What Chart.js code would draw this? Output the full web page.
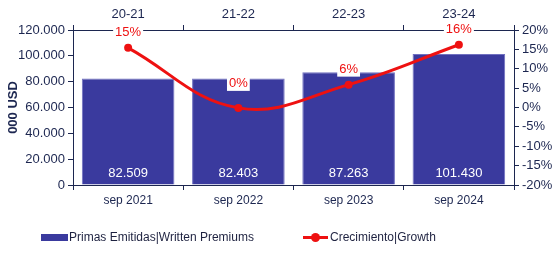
<!DOCTYPE html>
<html>
<head>
<meta charset="utf-8">
<script src="https://cdn.jsdelivr.net/npm/chart.js@4"></script>
<style>
  html, body { margin: 0; padding: 0; background: #fff; }
  .wrap { position: relative; width: 555px; height: 253px; font-family: Arial, "Liberation Sans", sans-serif; }
  canvas { position: absolute; left: 0; top: 0; }
  .legend { position: absolute; top: 229px; left: 0; width: 555px; height: 16px; font-size: 12px; color: #1e2240; }
  .item { position: absolute; top: 0; display: flex; align-items: center; height: 16px; white-space: nowrap; }
  .box { width: 27px; height: 7px; background: #3a3a9e; margin-right: 1px; }
  .line { position: relative; width: 25px; height: 3px; background: #ee1111; margin-right: 2px; }
  .line::after { content: ""; position: absolute; left: 8px; top: -3px; width: 9px; height: 9px; border-radius: 50%; background: #ee1111; }
</style>
</head>
<body>
<div class="wrap">
  <canvas id="chart" width="555" height="253"></canvas>
  <div class="legend">
    <div class="item" style="left:41px"><span class="box"></span>Primas Emitidas|Written Premiums</div>
    <div class="item" style="left:303px"><span class="line"></span>Crecimiento|Growth</div>
  </div>
</div>
<script>
const months = ["sep 2021", "sep 2022", "sep 2023", "sep 2024"];
const periods = ["20-21", "21-22", "22-23", "23-24"];
const premiums = [82509, 82403, 87263, 101430];
const growth = [15.4, -0.1, 5.9, 16.2];

const navy = "#1c2650";
const barColor = "#3a3a9e";
const red = "#ee1111";
const fontFam = "Arial, 'Liberation Sans', sans-serif";

const fmtThousands = v => String(v).replace(/\B(?=(\d{3})+(?!\d))/g, ".");

// value labels: white inside bars, red above the line points
const labelsPlugin = {
  id: "valueLabels",
  afterDatasetsDraw(chart) {
    const ctx = chart.ctx;
    ctx.save();
    ctx.textAlign = "center";
    ctx.textBaseline = "middle";
    ctx.font = "13px " + fontFam;

    const bars = chart.getDatasetMeta(0).data;
    const yBottom = chart.scales.y.bottom;
    bars.forEach((bar, i) => {
      ctx.fillStyle = "#ffffff";
      ctx.fillText(fmtThousands(premiums[i]), bar.x, yBottom - 12);
    });

    const pts = chart.getDatasetMeta(1).data;
    pts.forEach((p, i) => {
      const txt = Math.round(growth[i]) + "%";
      const w = ctx.measureText(txt).width;
      const ly = p.y - (i === 1 ? 24 : 15);
      ctx.fillStyle = "#ffffff";
      ctx.fillRect(p.x - w / 2 - 2, ly - 7, w + 4, 14);
      ctx.fillStyle = red;
      ctx.fillText(txt, p.x, ly);
    });
    ctx.restore();
  }
};

const axisGrid = { display: true, drawOnChartArea: false, offset: true, tickLength: 5, color: navy, lineWidth: 1 };

new Chart(document.getElementById("chart").getContext("2d"), {
  data: {
    labels: months,
    datasets: [
      {
        type: "bar", label: "Primas Emitidas|Written Premiums", data: premiums,
        backgroundColor: barColor, borderColor: "#7070c0", borderWidth: 1,
        barPercentage: 1, categoryPercentage: 0.84, yAxisID: "y", order: 2
      },
      {
        type: "line", label: "Crecimiento|Growth", data: growth,
        borderColor: red, backgroundColor: red, borderWidth: 3,
        pointRadius: 4, pointBackgroundColor: red, pointBorderWidth: 0,
        tension: 0.4, yAxisID: "y1", order: 1
      }
    ]
  },
  options: {
    responsive: false, animation: false,
    layout: { padding: { top: 0, bottom: 43, left: 4, right: 0 } },
    plugins: { legend: { display: false }, tooltip: { enabled: false } },
    scales: {
      x: {
        position: "bottom", offset: true, grid: axisGrid, border: { color: navy },
        ticks: { color: navy, font: { size: 12, family: fontFam }, padding: 3 },
        afterFit: s => { s.height = 25; }
      },
      x2: {
        type: "category", position: "top", offset: true, labels: periods, grid: axisGrid, border: { color: navy },
        ticks: { color: navy, font: { size: 13, family: fontFam }, padding: 3 },
        afterFit: s => { s.height = 30; }
      },
      y: {
        position: "left", min: 0, max: 120000,
        grid: { display: true, drawOnChartArea: false, tickLength: 5, color: navy },
        border: { color: navy },
        ticks: { stepSize: 20000, color: navy, font: { size: 13, family: fontFam }, padding: 3, callback: v => fmtThousands(v) },
        title: { display: true, text: "000 USD", color: navy, font: { size: 13, weight: "bold", family: fontFam }, padding: 2 },
        afterFit: s => { s.width = 69; }
      },
      y1: {
        position: "right", min: -20, max: 20,
        grid: { display: true, drawOnChartArea: false, tickLength: 5, color: navy },
        border: { color: navy },
        ticks: { stepSize: 5, color: navy, font: { size: 13, family: fontFam }, padding: 3, callback: v => v + "%" },
        afterFit: s => { s.width = 41; }
      }
    }
  },
  plugins: [labelsPlugin]
});
</script>
</body>
</html>
